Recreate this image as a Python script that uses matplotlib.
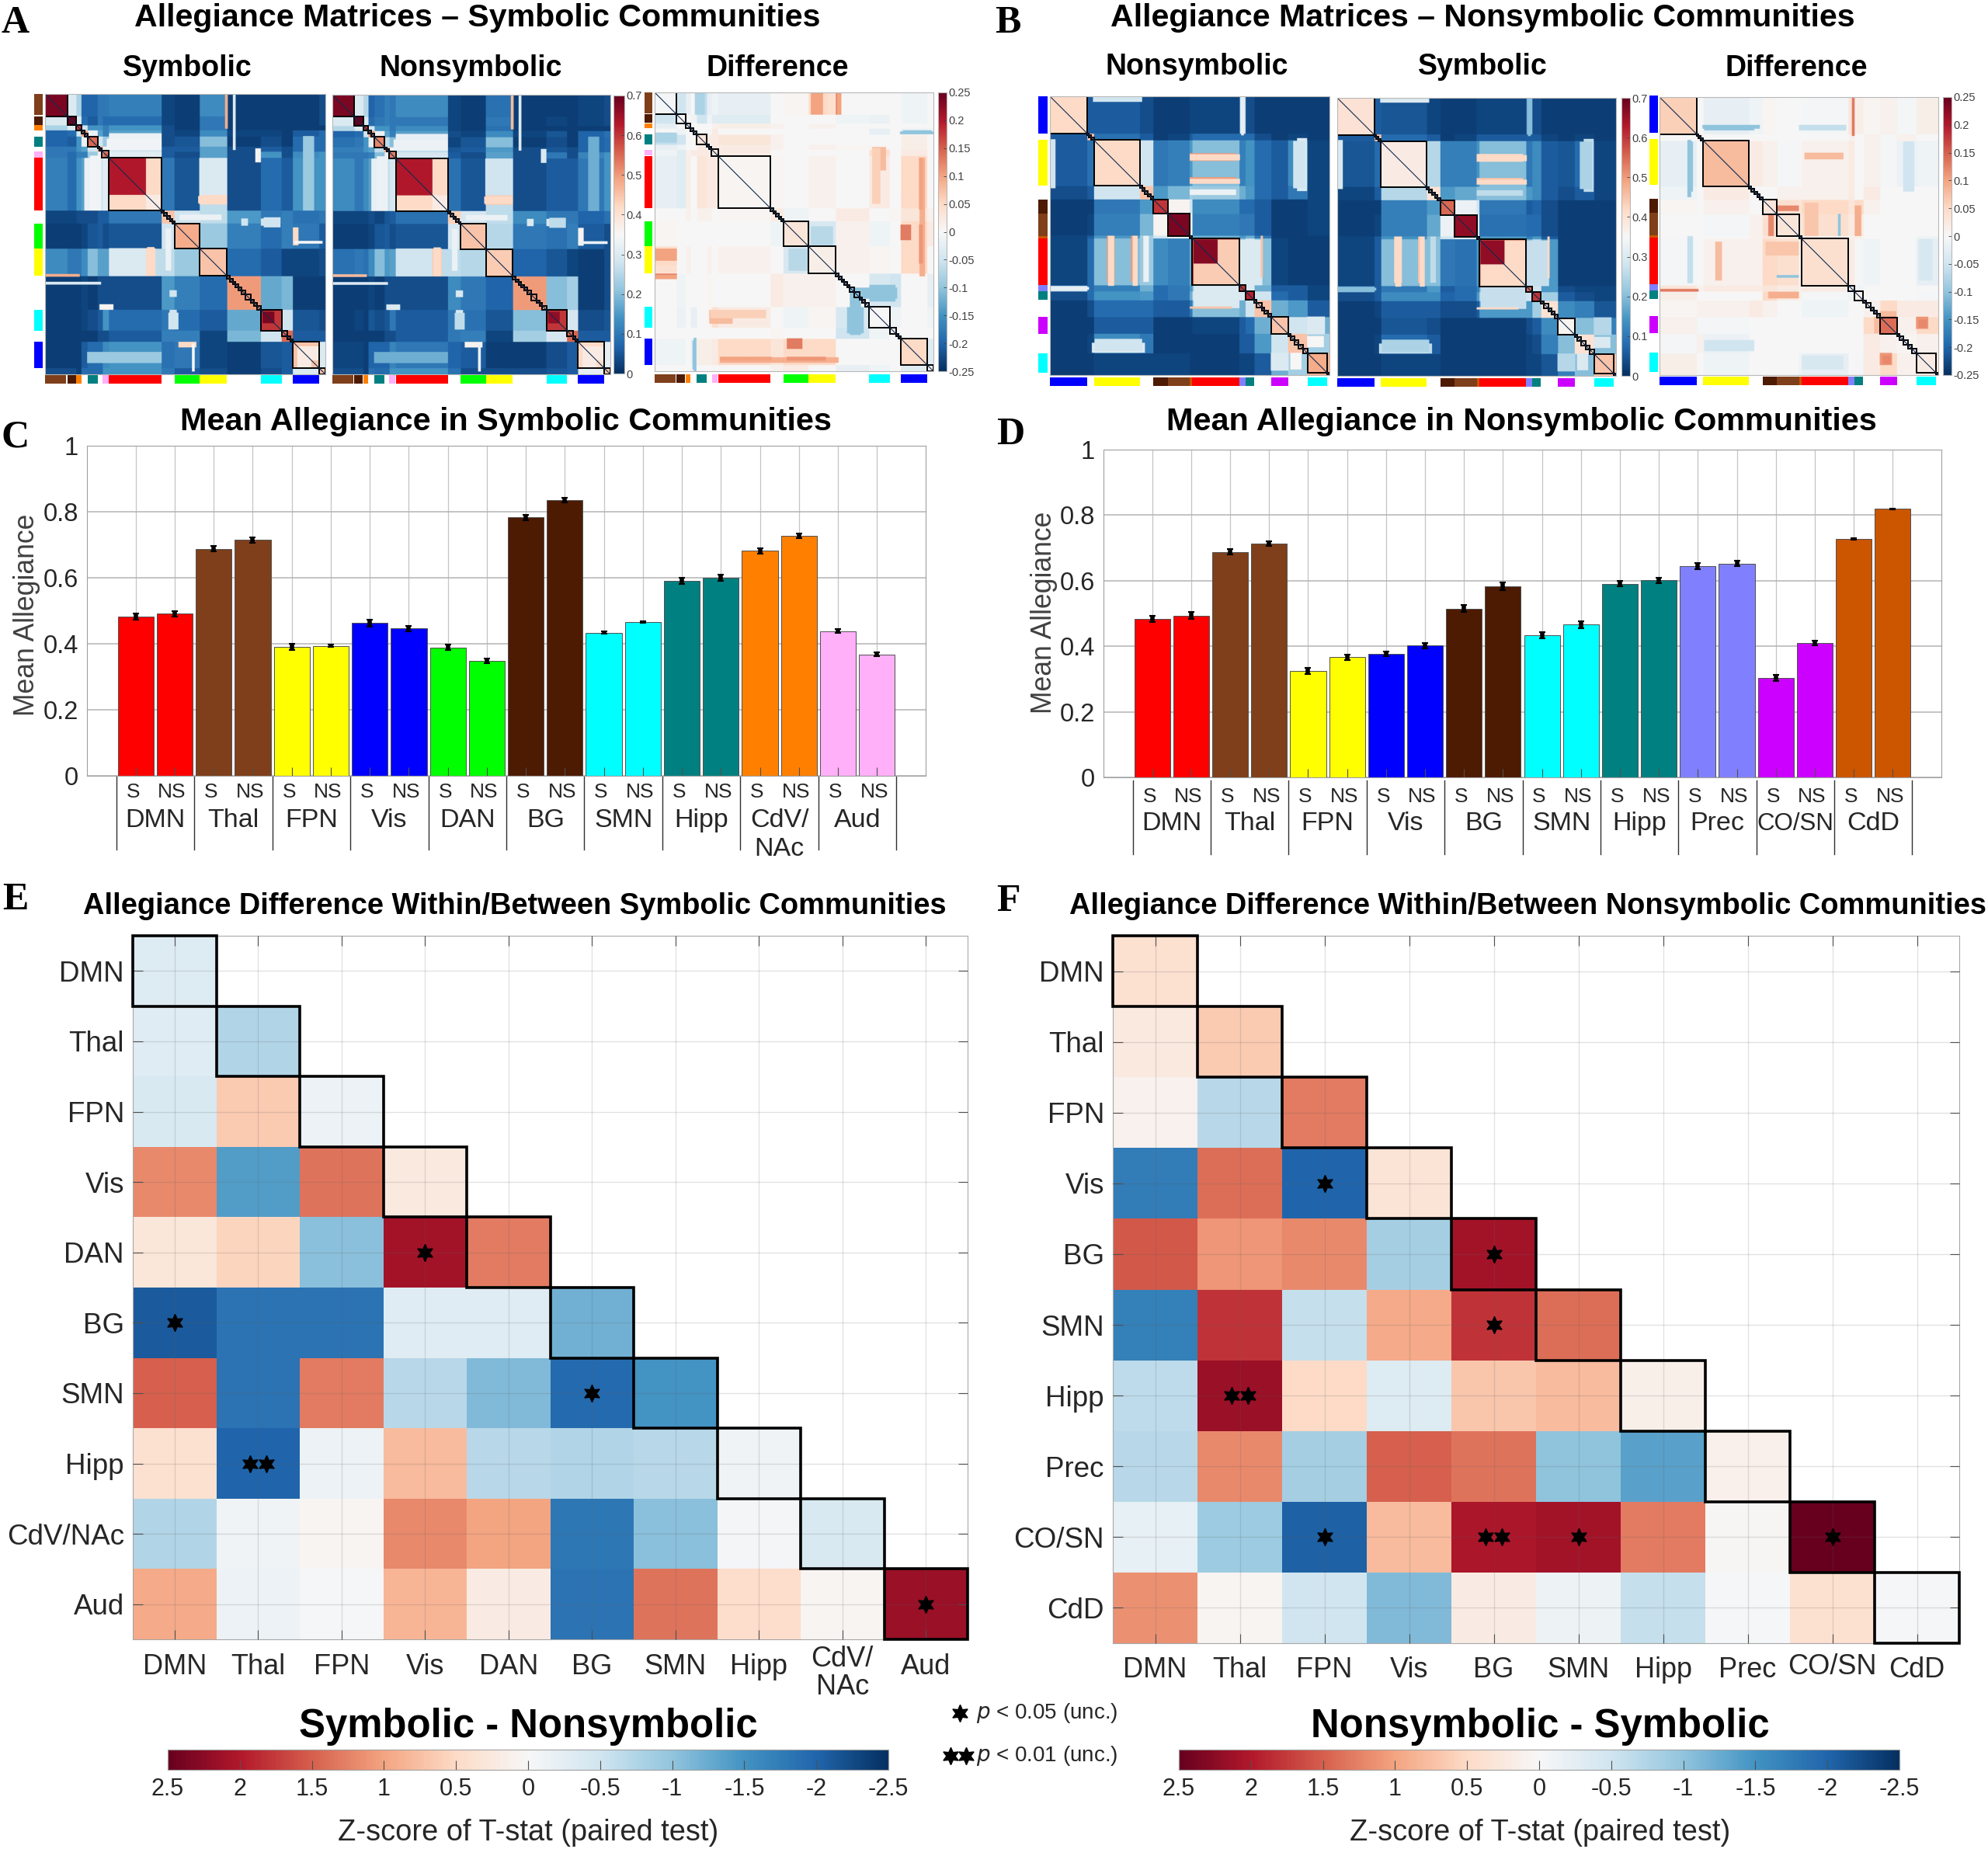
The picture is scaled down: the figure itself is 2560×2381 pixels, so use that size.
import numpy as np
import matplotlib
matplotlib.use("Agg")
import matplotlib.pyplot as plt
from matplotlib.patches import Rectangle

W, H = 2560, 2381
plt.rcParams['font.family'] = ['Liberation Sans', 'DejaVu Sans']
INK = '#262626'

RED, BROWN, YEL, BLUE = '#FF0000', '#7F3F1A', '#FFFF00', '#0000FF'
GREEN, DARK, CYAN, TEAL = '#00FF00', '#4D1A02', '#00FFFF', '#008080'
ORANGE, PINK, PREC, CO, CDD = '#FF8000', '#FFB0F8', '#8080FF', '#CC00FF', '#CC5500'

# --- panel C / D bars
c_groups = ['DMN', 'Thal', 'FPN', 'Vis', 'DAN', 'BG', 'SMN', 'Hipp', 'CdV/\nNAc', 'Aud']
c_colors = [RED, BROWN, YEL, BLUE, GREEN, DARK, CYAN, TEAL, ORANGE, PINK]
c_sym = [.483, .688, .391, .4625, .389, .783, .434, .590, .682, .438]
c_non = [.491, .715, .394, .446, .348, .836, .466, .600, .727, .368]
c_err = [.009, .008, .009, .008, .009, .004, .010, .009, .008, .007, .008, .007, .004, .003, .009, .009, .008, .008, .006, .006]

d_groups = ['DMN', 'Thal', 'FPN', 'Vis', 'BG', 'SMN', 'Hipp', 'Prec', 'CO/SN', 'CdD']
d_colors = [RED, BROWN, YEL, BLUE, DARK, CYAN, TEAL, PREC, CO, CDD]
d_sym = [.484, .688, .325, .377, .515, .433, .591, .645, .303, .7275]
d_non = [.494, .714, .367, .402, .583, .466, .601, .652, .409, .819]
d_err = [.010, .010, .008, .007, .009, .008, .008, .009, .011, .011, .010, .010, .009, .008, .009, .008, .009, .007, .003, .002]

# --- panel E / F heatmaps (lower triangle, z-score of T-stat)
e_labels = ['DMN', 'Thal', 'FPN', 'Vis', 'DAN', 'BG', 'SMN', 'Hipp', 'CdV/NAc', 'Aud']
e_rows = [
    [-.35],
    [-.3, -.75],
    [-.4, .65, -.15],
    [1.2, -1.4, 1.35, .25],
    [.3, .55, -1.05, 2.1, 1.3],
    [-2.1, -1.85, -1.85, -.3, -.3, -1.2],
    [1.5, -1.85, 1.3, -.7, -1.1, -1.95, -1.5],
    [.4, -2.0, -.15, .8, -.7, -.75, -.7, -.1],
    [-.75, -.1, .05, 1.2, 1.0, -1.8, -1.05, -.05, -.4],
    [.95, -.15, -.03, .85, .2, -1.85, 1.35, .45, .05, 2.15],
]
e_stars = [(4, 3, 1), (5, 0, 1), (6, 5, 1), (7, 1, 2), (9, 9, 1)]

f_labels = ['DMN', 'Thal', 'FPN', 'Vis', 'BG', 'SMN', 'Hipp', 'Prec', 'CO/SN', 'CdD']
f_rows = [
    [.4],
    [.25, .65],
    [.1, -.7, 1.3],
    [-1.75, 1.4, -2.0, .35],
    [1.55, 1.1, 1.2, -.85, 2.1],
    [-1.7, 1.8, -.6, .95, 1.8, 1.4],
    [-.65, 2.15, .5, -.35, .7, .8, .15],
    [-.7, 1.2, -.85, 1.5, 1.35, -1.0, -1.35, .12],
    [-.2, -.9, -2.05, .8, 2.05, 2.1, 1.3, .03, 2.6],
    [1.15, .05, -.5, -1.1, .2, -.12, -.6, -.03, .4, -.03],
]
f_stars = [(3, 2, 1), (4, 4, 1), (5, 4, 1), (6, 1, 2), (8, 2, 1), (8, 4, 2), (8, 5, 1), (8, 8, 1)]

# --- panel A allegiance, coarse block means read by eye
a_edges = [0, .079, .111, .129, .151, .188, .205, .228, .416, .462, .552, .649, .770, .844, .884, .977, 1]
a_boxes = [0, .079, .111, .129, .14, .151, .188, .195, .203, .228, .416, .425, .435, .445, .455, .462, .552, .649,
           .66, .67, .68, .69, .70, .715, .735, .745, .755, .770, .844, .865, .875, .884, .977, 1]
a_strip_start = [0, .079, .111, .151, .205, .228, .462, .552, .770, .884]
a_strip_end = [.076, .11, .129, .188, .227, .416, .552, .649, .844, .977]
a_strip_colors = [BROWN, DARK, ORANGE, TEAL, PINK, RED, GREEN, YEL, CYAN, BLUE]

a_sym = [
    [.68],
    [.3, .72],
    [.24, .3, .6],
    [.07, .08, .28, .5],
    [.07, .06, .14, .33, .55],
    [.1, .1, .14, .16, .28, .5],
    [.1, .08, .11, .11, .22, .33, .55],
    [.11, .08, .14, .16, .26, .28, .31, .5],
    [.03, .03, .04, .04, .04, .06, .06, .1, .45],
    [.02, .02, .02, .03, .05, .06, .04, .05, .28, .48],
    [.13, .1, .1, .13, .2, .16, .16, .26, .26, .22, .45],
    [.02, .02, .02, .03, .02, .04, .04, .04, .15, .11, .08, .5],
    [.02, .02, .02, .03, .04, .06, .14, .08, .1, .08, .06, .17, .6],
    [.02, .02, .02, .02, .02, .04, .04, .06, .11, .11, .03, .19, .28, .55],
    [.02, .02, .02, .06, .08, .08, .13, .14, .09, .1, .03, .02, .05, .06, .45],
    [.04, .04, .02, .08, .08, .08, .14, .14, .1, .06, .04, .02, .04, .06, .3, .45],
]
a_non = [
    [.68],
    [.3, .72],
    [.25, .3, .6],
    [.07, .08, .28, .5],
    [.09, .1, .14, .33, .52],
    [.11, .11, .14, .16, .26, .5],
    [.1, .1, .1, .11, .2, .33, .53],
    [.13, .1, .13, .16, .24, .26, .29, .5],
    [.03, .03, .03, .04, .03, .05, .06, .09, .43],
    [.02, .02, .02, .03, .05, .06, .04, .05, .29, .45],
    [.09, .1, .09, .13, .2, .15, .16, .26, .26, .25, .44],
    [.02, .02, .02, .03, .02, .04, .04, .04, .13, .1, .07, .5],
    [.02, .03, .02, .05, .04, .05, .1, .06, .1, .09, .05, .2, .6],
    [.02, .02, .02, .02, .02, .04, .04, .06, .1, .11, .03, .23, .29, .55],
    [.03, .03, .02, .07, .07, .07, .12, .1, .07, .06, .02, .02, .04, .06, .42],
    [.04, .04, .02, .09, .08, .08, .14, .14, .09, .04, .04, .04, .05, .06, .32, .45],
]
a_diff = [
    [-.005],
    [-.05, .0],
    [-.02, .0, .0],
    [.0, -.01, .0, .0],
    [-.06, -.05, .0, .0, .03],
    [-.02, -.01, .0, .0, .02, .0],
    [-.01, -.03, .01, .02, .02, .02, .02],
    [-.02, -.03, .015, .0, .03, .02, .02, .005],
    [.0, .0, .01, .0, .01, .01, .0, .005, .02],
    [.005, .0, .0, .0, .0, .0, .0, .0, -.01, .03],
    [.04, .0, .01, .0, .0, .01, .0, .01, .0, -.04, .015],
    [.0, -.01, .0, .0, .0, .005, .0, .0, .02, .01, .01, .0],
    [.0, -.015, .0, -.02, .0, .005, .04, .02, .0, -.01, .005, -.04, .0],
    [.0, .0, .0, .0, .0, .0, .0, .0, .005, .0, .0, -.05, -.01, .0],
    [-.01, -.01, .0, -.02, .015, .015, .02, .05, .03, .05, .05, .0, .0, .0, .05],
    [.0, .0, .0, -.01, .0, .0, .0, .0, .01, .02, .0, -.02, -.01, .0, -.03, .0],
]

# visible bands and cores on top of the block means: row from/to, column from/to, value
a_sym_bands = [
    (.228, .36, .228, .36, .63), (.36, .416, .228, .36, .42), (.36, .416, .36, .416, .38),
    (.228, .416, .14, .188, .33), (.228, .36, .55, .65, .3), (.36, .395, .55, .65, .42),
    (.547, .65, .365, .39, .42), (.642, .652, 0, .125, .48), (.67, .68, 0, .2, .3),
    (.445, .47, .77, .84, .28), (.885, .905, .476, .54, .42), (.89, .99, .525, .535, .35),
    (.48, .63, .43, .45, .33), (.445, .47, .70, .725, .28), (.78, .84, .44, .476, .28),
    (.75, .77, .195, .245, .36), (.776, .818, .776, .818, .68), (.16, .2, .22, .416, .34),
    (.92, .96, .15, .416, .22), (.9, .98, .9, .95, .38),
]
a_non_bands = [
    (.228, .36, .228, .36, .63), (.36, .416, .228, .36, .42), (.36, .416, .36, .416, .38),
    (.228, .416, .14, .188, .32), (.228, .36, .55, .65, .28), (.36, .395, .55, .65, .44),
    (.547, .65, .365, .39, .42), (.642, .652, 0, .125, .46), (.67, .68, 0, .2, .3),
    (.445, .47, .77, .84, .3), (.885, .905, .476, .54, .36), (.89, .99, .525, .535, .33),
    (.48, .63, .43, .45, .33), (.445, .47, .70, .725, .3), (.78, .84, .44, .476, .26),
    (.75, .77, .195, .245, .3), (.776, .818, .776, .818, .66), (.16, .2, .22, .416, .33),
    (.92, .96, .15, .416, .18), (.9, .98, .9, .95, .38),
]
a_diff_bands = [
    (.65, .668, 0, .08, .13), (.145, .18, 0, .08, -.08), (0, .08, .56, .62, .05), (0, .08, .655, .67, .1),
    (.235, .66, .95, .97, .09), (.475, .53, .885, .92, .13), (.197, .28, .78, .83, .08),
    (.883, .9, .475, .53, .13), (.948, .962, .234, .42, .1), (.948, .962, .475, .615, .11),
    (.89, .995, .136, .15, -.1), (.7, .74, .7, .87, -.1), (.77, .865, .69, .75, -.1),
    (.78, .81, .2, .4, .06), (.14, .15, .88, 1, -.1), (.56, .64, .48, .55, -.07), (.56, .605, 0, .08, .1),
]

# --- panel B
b_edges = [0, .134, .157, .321, .370, .421, .5, .509, .678, .699, .731, .792, .852, .921, 1]
b_boxes = [0, .134, .14, .147, .157, .321, .33, .34, .35, .36, .370, .421, .5, .509, .678, .699, .731,
           .74, .757, .768, .78, .792, .852, .86, .875, .89, .905, .921, .991, 1]
b_strip_start = [0, .157, .37, .421, .5, .509, .678, .699, .792, .921]
b_strip_end = [.134, .321, .421, .5, .509, .678, .699, .731, .852, .991]
b_strip_colors = [BLUE, YEL, DARK, BROWN, CDD, RED, PREC, TEAL, CO, CYAN]

b_non = [
    [.42],
    [.06, .45],
    [.06, .09, .42],
    [.04, .06, .28, .45],
    [.02, .02, .1, .15, .6],
    [.02, .03, .11, .19, .36, .68],
    [.03, .06, .15, .23, .28, .33, .6],
    [.03, .08, .2, .22, .13, .11, .18, .58],
    [.08, .08, .11, .18, .08, .1, .15, .2, .6],
    [.04, .08, .14, .15, .08, .1, .18, .28, .3, .62],
    [.02, .04, .08, .08, .06, .06, .1, .2, .18, .28, .45],
    [.02, .02, .06, .06, .02, .02, .02, .03, .06, .08, .18, .45],
    [.02, .03, .13, .1, .02, .02, .02, .02, .06, .06, .15, .28, .45],
    [.02, .02, .03, .03, .03, .03, .02, .02, .03, .03, .06, .18, .23, .48],
]
b_sym = [
    [.4],
    [.06, .45],
    [.05, .08, .38],
    [.03, .06, .25, .4],
    [.02, .02, .11, .15, .55],
    [.02, .03, .11, .17, .33, .66],
    [.03, .06, .14, .2, .28, .31, .55],
    [.03, .06, .2, .2, .1, .09, .15, .56],
    [.08, .06, .1, .15, .06, .08, .11, .18, .55],
    [.04, .06, .13, .13, .07, .08, .15, .25, .28, .6],
    [.02, .03, .06, .06, .04, .04, .06, .15, .15, .23, .4],
    [.02, .02, .05, .04, .02, .02, .02, .02, .04, .06, .13, .36],
    [.02, .03, .08, .06, .02, .02, .02, .02, .03, .04, .11, .2, .4],
    [.02, .02, .03, .03, .02, .02, .02, .02, .03, .03, .05, .11, .2, .45],
]
b_diff = [
    [.06],
    [.0, .02],
    [-.02, .0, .08],
    [-.01, .0, .02, .0],
    [.005, .0, .01, .0, .03],
    [.0, .0, -.005, .01, .04, .03],
    [.0, .0, .0, .01, .03, .02, .0],
    [-.005, .0, .01, .01, .05, .04, .01, .04],
    [.03, .01, .02, .02, .03, .02, .01, .02, .0],
    [.015, .0, .0, .0, .05, .02, .01, -.005, -.01, .01],
    [.005, .01, .01, .02, .01, .0, .0, -.01, .0, .0, .01],
    [.01, -.005, -.005, .0, .0, .0, .0, .0, .0, .0, .05, .1],
    [-.005, .01, -.015, .0, .0, .0, .0, .0, .0, .0, .02, .01, .005],
    [.015, .0, -.01, .0, .0, .0, -.01, -.02, .0, -.005, .02, .05, .01, .02],
]
b_non_bands = [
    (.514, .6, .514, .6, .67), (.6, .678, .514, .678, .44), (.205, .233, .5, .667, .5), (.29, .312, .5, .667, .5),
    (.335, .355, .5, .667, .33), (.5, .68, .208, .23, .42), (.5, .68, .296, .315, .42), (.68, .76, .514, .678, .3),
    (.755, .762, .5, .65, .45), (.68, .7, 0, .134, .3), (0, .02, .155, .33, .28), (.885, .92, .15, .34, .3),
    (.16, .33, .87, .915, .28), (.79, .855, .92, .985, .3), (0, .14, .685, .695, .32), (.92, .98, .86, .9, .35),
]
b_sym_bands = [
    (.514, .6, .514, .6, .66), (.6, .678, .514, .678, .42), (.205, .233, .5, .667, .42), (.29, .312, .5, .667, .45),
    (.335, .355, .5, .667, .26), (.5, .68, .208, .23, .42), (.5, .68, .296, .315, .42), (.68, .76, .514, .678, .27),
    (.755, .762, .5, .65, .42), (.68, .7, 0, .134, .2), (0, .02, .155, .33, .3), (.885, .92, .15, .34, .26),
    (.16, .33, .87, .915, .24), (.79, .855, .92, .985, .25), (0, .14, .685, .695, .2), (.92, .98, .86, .9, .3),
]
b_diff_bands = [
    (.1, .115, .155, .36, -.1), (.1, .115, .5, .66, -.08), (0, .14, .69, .7, .13),
    (.16, .34, .1, .12, -.1), (.5, .67, .1, .12, -.06), (.52, .66, .2, .225, .08),
    (.52, .57, .38, .5, .07), (.64, .65, .42, .5, -.1), (.39, .41, .42, .5, .12), (.79, .85, .79, .85, .14),
    (.79, .85, .77, .79, .08), (.79, .835, .92, .965, .11), (.93, .96, .8, .83, .12),
    (.16, .34, .875, .915, -.05), (.51, .66, .93, .98, -.04), (.7, .725, .39, .5, .09),
]

alleg_ticks = [0, .1, .2, .3, .4, .5, .6, .7]
diff_ticks = [-.25, -.2, -.15, -.1, -.05, 0, .05, .1, .15, .2, .25]
diff_tick_text = ['-0.25', '-0.2', '-0.15', '-0.1', '-0.05', '0', '0.05', '0.1', '0.15', '0.2', '0.25']
z_ticks = [2.5, 2, 1.5, 1, .5, 0, -.5, -1, -1.5, -2, -2.5]
z_tick_text = ['2.5', '2', '1.5', '1', '0.5', '0', '-0.5', '-1', '-1.5', '-2', '-2.5']

fig = plt.figure(figsize=(W / 100, H / 100), dpi=100)


def box(x0, y0, x1, y1):
    # pixel box (y down) to figure rect
    return [x0 / W, 1 - y1 / H, (x1 - x0) / W, (y1 - y0) / H]


def put(x, y, s, **kw):
    kw.setdefault('ha', 'center')
    kw.setdefault('va', 'center')
    return fig.text(x / W, 1 - y / H, s, **kw)


def full(rows, edges, bands):
    # blocks on a fine grid so the bands can sit on top
    n = len(rows)
    m = np.zeros((n, n))
    for i, r in enumerate(rows):
        for j, v in enumerate(r):
            m[i, j] = v
            m[j, i] = v
    size = 500
    mid = (np.arange(size) + .5) / size
    idx = np.clip(np.searchsorted(edges, mid) - 1, 0, n - 1)
    fine = m[np.ix_(idx, idx)]
    for r0, r1, c0, c1, v in bands:
        rr = (mid >= r0) & (mid < r1)
        cc = (mid >= c0) & (mid < c1)
        fine[np.ix_(rr, cc)] = v
        fine[np.ix_(cc, rr)] = v
    return fine


def strip(rect, starts, ends, colors, vertical):
    ax = fig.add_axes(box(*rect))
    ax.axis('off')
    ax.set_xlim(0, 1)
    ax.set_ylim(1, 0)
    for s, e, c in zip(starts, ends, colors):
        if vertical:
            ax.axhspan(s, e, color=c, lw=0)
        else:
            ax.axvspan(s, e, color=c, lw=0)


def matrix(rect, rows, edges, bands, boxes, vmin, vmax):
    ax = fig.add_axes(box(*rect))
    im = ax.imshow(full(rows, edges, bands), cmap='RdBu_r', vmin=vmin, vmax=vmax, extent=(0, 1, 1, 0),
                   aspect='auto', interpolation='bilinear')
    ax.set_xticks([])
    ax.set_yticks([])
    for sp in ax.spines.values():
        sp.set_color('#b8b8b8')
    for s, e in zip(boxes[:-1], boxes[1:]):
        ax.add_patch(Rectangle((s, s), e - s, e - s, fill=False, ec='black', lw=1.4))
    ax.plot([boxes[0], boxes[-1]], [boxes[0], boxes[-1]], color='#102a50', lw=.8)
    return im


def matrix_cbar(im, rect, ticks, text=None):
    cax = fig.add_axes(box(*rect))
    cb = fig.colorbar(im, cax=cax)
    cb.set_ticks(ticks)
    cb.set_ticklabels(text if text else [('%g' % t) for t in ticks])
    cax.tick_params(labelsize=10.5, length=3, width=.6, colors='#404040', direction='in', pad=2)
    cb.outline.set_edgecolor('#b8b8b8')


def bars(rect, groups, colors, sym, non, err, ylab_x, ylab_y, y_sn, y_grp, y_sep):
    ax = fig.add_axes(box(*rect))
    xs = np.arange(1, 21)
    vals, cols = [], []
    for s, n, c in zip(sym, non, colors):
        vals += [s, n]
        cols += [c, c]
    ax.bar(xs, vals, width=.92, color=cols, edgecolor='#505050', linewidth=.7, zorder=2)
    ax.errorbar(xs, vals, yerr=err, fmt='none', ecolor='black', elinewidth=4, capsize=3, capthick=1.5, zorder=4)
    ax.vlines(xs, 0, .025, color='#505050', lw=.8, zorder=3)
    ax.set_xlim(-.25, 21.25)
    ax.set_ylim(0, 1)
    ax.set_xticks(xs)
    ax.set_xticklabels([])
    ax.set_yticks([0, .2, .4, .6, .8, 1])
    ax.set_yticklabels(['0', '0.2', '0.4', '0.6', '0.8', '1'])
    ax.grid(True, color='#b4b4b4', lw=1.1)
    ax.xaxis.grid(True, color='#c4c4c4', lw=.9)
    ax.set_axisbelow(True)
    ax.tick_params(axis='y', labelsize=23.5, labelcolor=INK, length=0, pad=8)
    ax.tick_params(axis='x', length=0)
    for sp in ax.spines.values():
        sp.set_color('#a0a0a0')
    top, bottom = rect[1], rect[3]
    tr = ax.get_xaxis_transform()

    def ya(y):
        return (bottom - y) / (bottom - top)

    for i, g in enumerate(groups):
        ax.text(2 * i + .93, ya(y_sn), 'S', transform=tr, ha='center', va='center', fontsize=19, color=INK, clip_on=False)
        ax.text(2 * i + 1.93, ya(y_sn), 'NS', transform=tr, ha='center', va='center', fontsize=19, color=INK, clip_on=False)
        fs = 22.5 if len(g) == 5 and '\n' not in g else 24.5
        parts = g.split('\n')
        for k, part in enumerate(parts):
            ax.text(2 * i + 1.5, ya(y_grp + 37 * k), part, transform=tr, ha='center', va='center', fontsize=fs,
                    color=INK, clip_on=False)
    for k in range(len(groups) + 1):
        ax.plot([2 * k + .5] * 2, [ya(y_sep[0]), ya(y_sep[1])], transform=tr, color='#303030', lw=1, clip_on=False)
    put(ylab_x, ylab_y, 'Mean Allegiance', rotation=90, fontsize=25.6, color='#404040')


def heat(rect, rows, labels, stars, xlab_texts):
    ax = fig.add_axes(box(*rect))
    n = len(rows)
    m = np.full((n, n), np.nan)
    for i, r in enumerate(rows):
        for j, v in enumerate(r):
            m[i, j] = v
    edges = np.arange(n + 1)
    ax.pcolormesh(edges, edges, m, cmap='RdBu_r', vmin=-2.5, vmax=2.5)
    ax.set_xlim(0, n)
    ax.set_ylim(n, 0)
    ax.set_xticks(np.arange(n) + .5)
    ax.set_yticks(np.arange(n) + .5)
    ax.set_xticklabels([])
    ax.set_yticklabels(labels)
    ax.grid(True, color='#606060', alpha=.18, lw=1)
    ax.set_axisbelow(False)
    ax.tick_params(axis='both', direction='in', length=9, width=.8, color='#505050', top=True, right=True)
    ax.tick_params(axis='y', labelsize=26.5, labelcolor=INK, pad=8)
    for sp in ax.spines.values():
        sp.set_color('#a8a8a8')
    for i in range(n):
        ax.add_patch(Rectangle((i, i), 1, 1, fill=False, ec='black', lw=2.6, zorder=5, clip_on=False))
    for r, c, k in stars:
        px = [c + .5] if k == 1 else [c + .4, c + .6]
        ax.plot(px, [r + .5] * k, ls='none', marker=(6, 1, 0), ms=16, color='black', mec='black', zorder=6)
    top, bottom = rect[1], rect[3]
    tr = ax.get_xaxis_transform()
    for i, t in enumerate(xlab_texts):
        for s, y in t:
            ax.text(i + .5, (bottom - y) / (bottom - top), s, transform=tr, ha='center', va='center',
                    fontsize=26, color=INK, clip_on=False)


def zbar(rect, lab_x, lab_y):
    ax = fig.add_axes(box(*rect))
    im = plt.cm.ScalarMappable(cmap='RdBu_r', norm=plt.Normalize(-2.5, 2.5))
    cb = fig.colorbar(im, cax=ax, orientation='horizontal')
    ax.invert_xaxis()
    cb.set_ticks(z_ticks)
    cb.set_ticklabels(z_tick_text)
    ax.tick_params(axis='x', direction='in', length=9, width=.8, color='#505050', labelsize=22, labelcolor=INK, pad=7)
    cb.outline.set_edgecolor('#a0a0a0')
    put(lab_x, lab_y, 'Z-score of T-stat (paired test)', fontsize=27.4, color=INK)


# panel A
strip((44, 121, 55, 482), a_strip_start, a_strip_end, a_strip_colors, True)
strip((58, 483, 419, 494), a_strip_start, a_strip_end, a_strip_colors, False)
im = matrix((58, 121, 419, 482), a_sym, a_edges, a_sym_bands, a_boxes, 0, .7)
im = matrix((428, 122, 786, 482), a_non, a_edges, a_non_bands, a_boxes, 0, .7)
strip((428, 483, 786, 494), a_strip_start, a_strip_end, a_strip_colors, False)
matrix_cbar(im, (790, 123, 804, 481), alleg_ticks)
strip((830, 119, 840, 478), a_strip_start, a_strip_end, a_strip_colors, True)
strip((843, 482, 1202, 493), a_strip_start, a_strip_end, a_strip_colors, False)
im = matrix((843, 119, 1202, 478), a_diff, a_edges, a_diff_bands, a_boxes, -.25, .25)
matrix_cbar(im, (1208, 119, 1219, 478), diff_ticks, diff_tick_text)

# panel B
strip((1337, 124, 1349, 483), b_strip_start, b_strip_end, b_strip_colors, True)
strip((1352, 486, 1712, 497), b_strip_start, b_strip_end, b_strip_colors, False)
im = matrix((1352, 124, 1712, 483), b_non, b_edges, b_non_bands, b_boxes, 0, .7)
im = matrix((1722, 126, 2081, 484), b_sym, b_edges, b_sym_bands, b_boxes, 0, .7)
strip((1722, 487, 2081, 498), b_strip_start, b_strip_end, b_strip_colors, False)
matrix_cbar(im, (2088, 126, 2099, 484), alleg_ticks)
strip((2124, 123, 2135, 482), b_strip_start, b_strip_end, b_strip_colors, True)
strip((2137, 485, 2496, 496), b_strip_start, b_strip_end, b_strip_colors, False)
im = matrix((2137, 125, 2496, 483), b_diff, b_edges, b_diff_bands, b_boxes, -.25, .25)
matrix_cbar(im, (2502, 125, 2513, 483), diff_ticks, diff_tick_text)

# panels C, D
bars((112, 574, 1192, 999), c_groups, c_colors, c_sym, c_non, c_err, 35, 792, 1020, 1056, (1000, 1094))
bars((1421, 579, 2500, 1001), d_groups, d_colors, d_sym, d_non, d_err, 1345, 789, 1026, 1061, (1005, 1100))

# panels E, F
e_x = [[(s, 2147)] for s in e_labels]
e_x[8] = [('CdV/', 2136), ('NAc', 2173)]
heat((171, 1205, 1246, 2111), e_rows, e_labels, e_stars, e_x)
f_x = [[(s, 2150)] for s in f_labels]
f_x[8] = [('CO/SN', 2146)]
heat((1433, 1205, 2523, 2116), f_rows, f_labels, f_stars, f_x)

zbar((216, 2253, 1144, 2279), 680, 2360)
zbar((1518, 2253, 2446, 2279), 1983, 2360)
put(680, 2223, 'Symbolic - Nonsymbolic', fontsize=36.6, fontweight='bold')
put(1983, 2223, 'Nonsymbolic - Symbolic', fontsize=36.6, fontweight='bold')

# star legend
leg = fig.add_axes([0, 0, 1, 1])
leg.axis('off')
leg.set_xlim(0, W)
leg.set_ylim(H, 0)
legend_stars_x = [1236, 1224, 1244]
legend_stars_y = [2206, 2261, 2261]
leg.plot(legend_stars_x, legend_stars_y, ls='none', marker=(6, 1, 0), ms=16, color='black')
put(1257, 2206, r'$\mathit{p}$ < 0.05 (unc.)', ha='left', fontsize=20, color=INK)
put(1257, 2261, r'$\mathit{p}$ < 0.01 (unc.)', ha='left', fontsize=20, color=INK)

# titles
tb = dict(fontweight='bold', color='black')
put(615, 23, 'Allegiance Matrices – Symbolic Communities', fontsize=29.6, **tb)
put(1909, 23, 'Allegiance Matrices – Nonsymbolic Communities', fontsize=29.6, **tb)
for x, y, s in [(241, 88, 'Symbolic'), (606, 88, 'Nonsymbolic'), (1001, 88, 'Difference'),
                (1541, 86, 'Nonsymbolic'), (1909, 86, 'Symbolic'), (2313, 88, 'Difference')]:
    put(x, y, s, fontsize=27, **tb)
put(651, 543, 'Mean Allegiance in Symbolic Communities', fontsize=29.8, **tb)
put(1959, 543, 'Mean Allegiance in Nonsymbolic Communities', fontsize=29.8, **tb)
put(663, 1167, 'Allegiance Difference Within/Between Symbolic Communities', fontsize=27.4, **tb)
put(1967, 1167, 'Allegiance Difference Within/Between Nonsymbolic Communities', fontsize=27.4, **tb)

# panel letters
for x, y, s in [(20, 30, 'A'), (1298, 30, 'B'), (20, 563, 'C'), (1301, 560, 'D'), (20, 1159, 'E'), (1298, 1161, 'F')]:
    put(x, y, s, fontsize=36, fontweight='bold', family='Liberation Serif', color='black')

fig.savefig('out.png', dpi=100)
